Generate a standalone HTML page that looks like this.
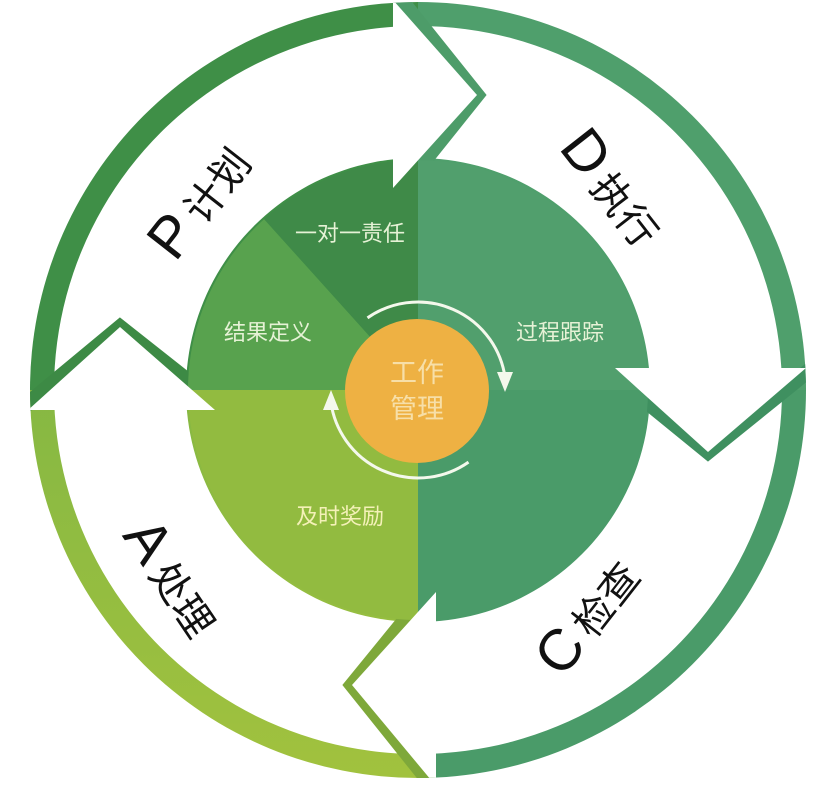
<!DOCTYPE html>
<html><head><meta charset="utf-8"><style>
html,body{margin:0;padding:0;background:#fff;}
svg{display:block;}
text{font-family:"Liberation Sans","Noto Sans CJK SC",sans-serif;}
</style></head><body>
<svg width="826" height="786" viewBox="0 0 826 786" xmlns="http://www.w3.org/2000/svg">
<defs>
<clipPath id="outer"><circle cx="418" cy="390" r="388"/></clipPath>
<linearGradient id="ga" x1="0" y1="0" x2="0" y2="1"><stop offset="0" stop-color="#86b843"/><stop offset="1" stop-color="#a2c23e"/></linearGradient>
</defs>
<g clip-path="url(#outer)">
<rect x="0" y="0" width="418" height="390" fill="#3f8f47"/>
<rect x="418" y="0" width="420" height="390" fill="#4f9f6c"/>
<rect x="418" y="390" width="420" height="400" fill="#4a9b69"/>
<rect x="0" y="390" width="418" height="400" fill="url(#ga)"/>
<path d="M418,26 a364,364 0 1,0 0.01,0 Z M418,158 a232,232 0 1,1 -0.01,0 Z" fill="#fff" fill-rule="evenodd"/>
<polyline points="393,-10 477,95 393,200" fill="none" stroke="#4d9c69" stroke-width="15"/>
<polyline points="605,368 708,452 812,368" fill="none" stroke="#3f9060" stroke-width="15"/>
<polyline points="436,582 352,685 436,790" fill="none" stroke="#7ea83a" stroke-width="15"/>
<polyline points="20,410 120,327 225,410" fill="none" stroke="#3d8a45" stroke-width="15"/>
<path d="M418,390 L188,390 A230,230 0 0,1 264.1,219.1 Z" fill="#58a24e"/>
<path d="M418,390 L264.1,219.1 A230,230 0 0,1 418,160 Z" fill="#3f8a48"/>
<path d="M418,390 L418,160 A230,230 0 0,1 648,390 Z" fill="#519f6d"/>
<path d="M418,390 L648,390 A230,230 0 0,1 418,620 Z" fill="#4a9b69"/>
<path d="M418,390 L418,620 A230,230 0 0,1 188,390 Z" fill="#92bb40"/>
<polygon points="393,0 477,95 393,188" fill="#fff"/>
<polygon points="615,368 708,452 806,368" fill="#fff"/>
<polygon points="436,592 352,685 436,786" fill="#fff"/>
<polygon points="28,410 120,327 215,410" fill="#fff"/>
</g>
<path d="M367.5,317.9 A88,88 0 0,1 505.1,377.8" fill="none" stroke="#f4f8ec" stroke-width="3"/>
<polygon points="505,392 497,372 513,372" fill="#f4f8ec"/>
<path d="M468.5,462.1 A88,88 0 0,1 330.9,402.2" fill="none" stroke="#f4f8ec" stroke-width="3"/>
<polygon points="331,390 323,410 339,410" fill="#f4f8ec"/>
<circle cx="417" cy="391" r="72" fill="#eeb143"/>
<text x="417" y="382" font-size="27" fill="#f7dfa8" text-anchor="middle">工作</text>
<text x="417" y="418" font-size="27" fill="#f7dfa8" text-anchor="middle">管理</text>
<text x="350" y="241" font-size="22" fill="#e6f2d6" text-anchor="middle">一对一责任</text>
<text x="268" y="340" font-size="22" fill="#e6f2d6" text-anchor="middle">结果定义</text>
<text x="560" y="340" font-size="22" fill="#e6f2d6" text-anchor="middle">过程跟踪</text>
<text x="340" y="524" font-size="22" fill="#f4f1b8" text-anchor="middle">及时奖励</text>
<g transform="translate(200,202) rotate(-52)"><text x="0" y="18" text-anchor="middle" fill="#111"><tspan font-size="58">P</tspan><tspan font-size="40" dx="8">计划</tspan></text></g>
<g transform="translate(612,188) rotate(52)"><text x="0" y="18" text-anchor="middle" fill="#111"><tspan font-size="58">D</tspan><tspan font-size="40" dx="8">执行</tspan></text></g>
<g transform="translate(588,617) rotate(-52)"><text x="0" y="18" text-anchor="middle" fill="#111"><tspan font-size="58">C</tspan><tspan font-size="40" dx="8">检查</tspan></text></g>
<g transform="translate(172,578) rotate(56)"><text x="0" y="18" text-anchor="middle" fill="#111"><tspan font-size="58">A</tspan><tspan font-size="40" dx="8">处理</tspan></text></g>
</svg>
</body></html>
